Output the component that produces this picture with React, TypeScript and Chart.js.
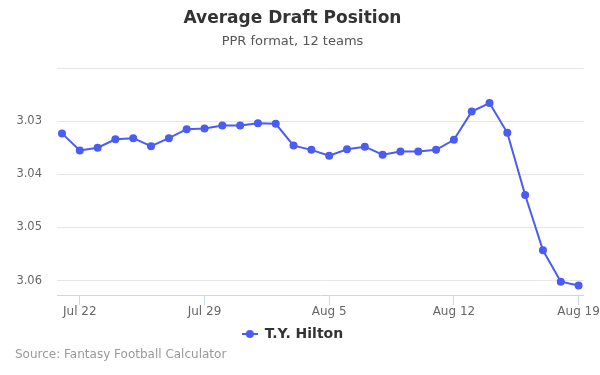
import React, { useEffect, useRef } from "react";
import { Chart, registerables } from "chart.js";

Chart.register(...registerables);

const dates = [
  "Jul 21", "Jul 22", "Jul 23", "Jul 24", "Jul 25", "Jul 26", "Jul 27", "Jul 28", "Jul 29", "Jul 30", "Jul 31",
  "Aug 1", "Aug 2", "Aug 3", "Aug 4", "Aug 5", "Aug 6", "Aug 7", "Aug 8", "Aug 9", "Aug 10", "Aug 11",
  "Aug 12", "Aug 13", "Aug 14", "Aug 15", "Aug 16", "Aug 17", "Aug 18", "Aug 19",
];
const adp = [
  3.0323, 3.0355, 3.035, 3.0334, 3.0332, 3.0347, 3.0332, 3.0315, 3.0314, 3.0308, 3.0308,
  3.0304, 3.0305, 3.0346, 3.0354, 3.0365, 3.0353, 3.0348, 3.0363, 3.0357, 3.0357, 3.0354,
  3.0335, 3.0282, 3.0266, 3.0322, 3.0439, 3.0543, 3.0602, 3.0609,
];
const xTickLabels = ["Jul 22", "Jul 29", "Aug 5", "Aug 12", "Aug 19"];
const yTicks = [3.02, 3.03, 3.04, 3.05, 3.06];
const seriesName = "T.Y. Hilton";
const titleText = "Average Draft Position";
const subtitleText = "PPR format, 12 teams";
const sourceText = "Source: Fantasy Football Calculator";

const COLOR = "#4b5cf0";
const FONT = "'DejaVu Sans', sans-serif";

export default function App() {
  const ref = useRef<HTMLCanvasElement | null>(null);

  useEffect(() => {
    document.body.style.margin = "0";
    const canvas = ref.current;
    if (!canvas) return;

    const sym = document.createElement("canvas");
    sym.width = 16;
    sym.height = 10;
    const sctx = sym.getContext("2d")!;
    sctx.strokeStyle = COLOR;
    sctx.lineWidth = 2;
    sctx.beginPath();
    sctx.moveTo(0, 5);
    sctx.lineTo(16, 5);
    sctx.stroke();
    sctx.fillStyle = COLOR;
    sctx.beginPath();
    sctx.arc(8, 5, 4, 0, Math.PI * 2);
    sctx.fill();

    const sourcePlugin = {
      id: "sourceText",
      afterDraw(chart: any) {
        const c = chart.ctx;
        c.save();
        c.font = `12px ${FONT}`;
        c.fillStyle = "#999999";
        c.textAlign = "left";
        c.textBaseline = "middle";
        c.fillText(sourceText, 15, 355);
        c.restore();
      },
    };

    const chart = new Chart(canvas, {
      type: "line",
      data: {
        datasets: [
          {
            label: seriesName,
            data: adp.map((v, i) => ({ x: i, y: v })),
            borderColor: COLOR,
            backgroundColor: COLOR,
            borderWidth: 2,
            pointRadius: 4,
            pointHoverRadius: 4,
            pointBorderWidth: 0,
            pointStyle: "circle",
            tension: 0,
          },
        ],
      },
      options: {
        animation: false,
        responsive: false,
        maintainAspectRatio: false,
        layout: { padding: { left: 0, right: 15, top: 0, bottom: 24 } },
        plugins: {
          tooltip: { enabled: false },
          title: {
            display: true,
            text: titleText,
            color: "#333333",
            font: { family: FONT, size: 17, weight: "bold" },
            padding: { top: 8, bottom: 2 },
          },
          subtitle: {
            display: true,
            text: subtitleText,
            color: "#555555",
            font: { family: FONT, size: 13 },
            padding: { top: 3, bottom: 19 },
          },
          legend: {
            position: "bottom",
            labels: {
              color: "#333333",
              font: { family: FONT, size: 14, weight: "bold" },
              usePointStyle: true,
              pointStyleWidth: 16,
              padding: 4,
              generateLabels: () => [
                {
                  text: seriesName,
                  pointStyle: sym,
                  fillStyle: COLOR,
                  strokeStyle: COLOR,
                  lineWidth: 0,
                  hidden: false,
                  datasetIndex: 0,
                  fontColor: "#333333",
                } as any,
              ],
            },
          },
        },
        scales: {
          x: {
            type: "linear",
            min: -0.28,
            max: 29.3,
            afterBuildTicks: (scale: any) => {
              scale.ticks = xTickLabels.map((l) => ({ value: dates.indexOf(l) }));
            },
            afterFit: (scale: any) => {
              scale.height = 28;
            },
            ticks: {
              color: "#666666",
              font: { family: FONT, size: 12 },
              padding: 0,
              maxRotation: 0,
              autoSkip: false,
              callback: (v: any) => dates[Math.round(Number(v))] ?? "",
            },
            grid: {
              drawOnChartArea: false,
              drawTicks: true,
              tickLength: 10,
              color: "#ccd6eb",
            },
            border: { display: true, color: "#ccd6eb", width: 1 },
          },
          y: {
            type: "linear",
            reverse: true,
            min: 3.02,
            max: 3.0627,
            afterBuildTicks: (scale: any) => {
              scale.ticks = yTicks.map((v) => ({ value: v }));
            },
            afterFit: (scale: any) => {
              scale.width = 57;
            },
            ticks: {
              color: "#666666",
              font: { family: FONT, size: 11.5 },
              padding: 15,
              callback: (v: any) => (Math.abs(Number(v) - yTicks[0]) < 1e-6 ? "" : Number(v).toFixed(2)),
            },
            grid: { color: "#e6e6e6", drawTicks: false, lineWidth: 1 },
            border: { display: false },
          },
        },
      },
      plugins: [sourcePlugin],
    });

    return () => chart.destroy();
  }, []);

  return (
    <div style={{ width: 600, height: 375, background: "#ffffff" }}>
      <canvas ref={ref} width={600} height={375} style={{ display: "block", width: 600, height: 375 }} />
    </div>
  );
}
